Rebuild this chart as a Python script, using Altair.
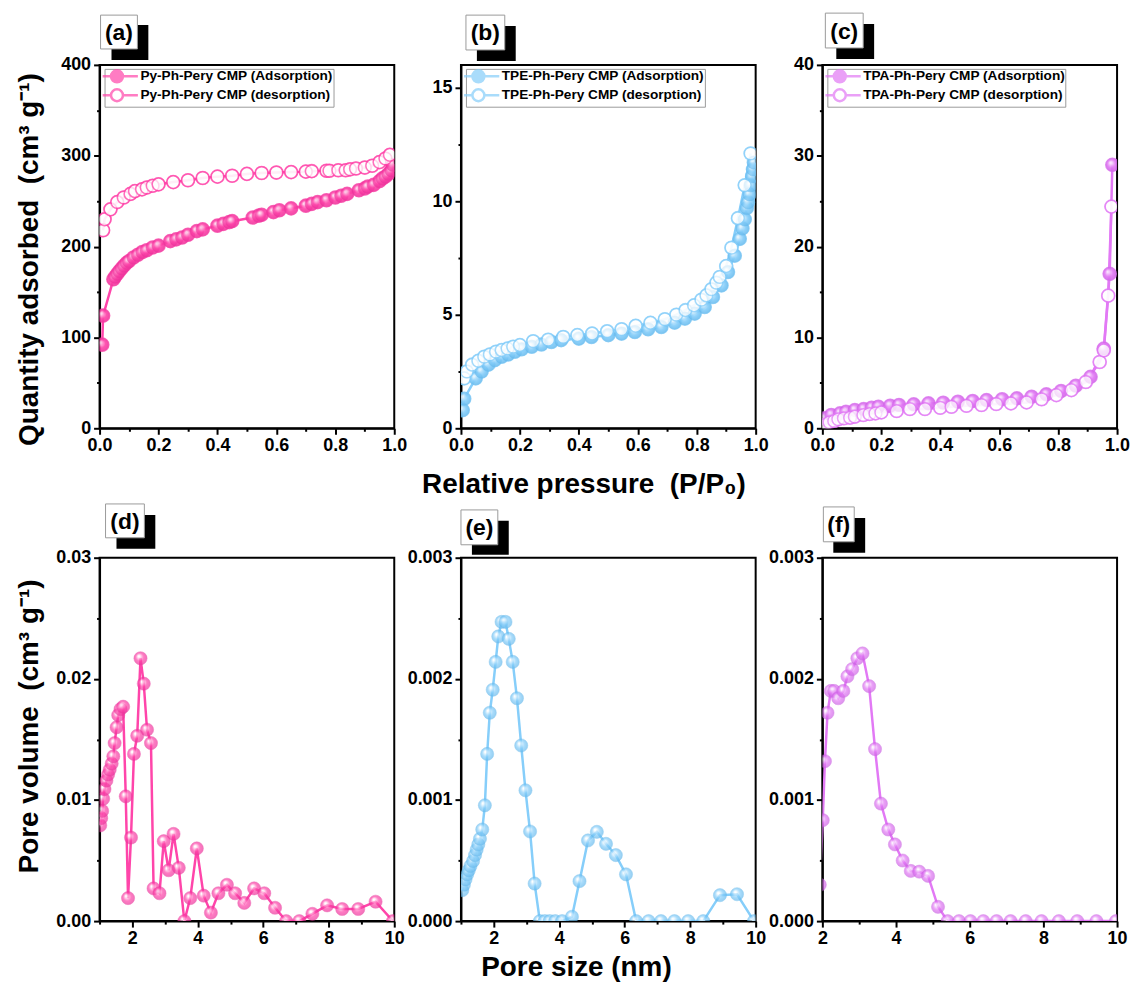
import altair as alt
import pandas as pd

FONT = "Liberation Sans"
PINK, PINK_D = "#FF45AA", "#E8329A"
BLUE, BLUE_D = "#86CEFA", "#62B6EA"
VIOL, VIOL_D = "#E279F5", "#C95FE0"

# ---------------- data ----------------
a_ads_x = [0.009, 0.012, 0.047, 0.053, 0.06, 0.067, 0.075, 0.083, 0.092, 0.10, 0.115, 0.13, 0.145, 0.16, 0.18,
           0.20, 0.24, 0.26, 0.28, 0.30, 0.33, 0.35, 0.40, 0.42, 0.44, 0.45, 0.52, 0.54, 0.55, 0.59, 0.61, 0.65,
           0.70, 0.72, 0.74, 0.77, 0.80, 0.82, 0.84, 0.88, 0.90, 0.91, 0.93, 0.95, 0.96, 0.97, 0.98, 0.99, 0.995]
a_ads_y = [92, 124, 164, 167, 170, 173, 176, 179, 182, 184, 188, 191, 194, 196, 199,
           201, 206, 208, 210, 213, 217, 219, 223, 225, 227, 228, 232, 234, 235, 238, 240, 242,
           245, 247, 249, 251, 254, 256, 258, 262, 264, 266, 268, 272, 275, 277, 280, 284, 290]
a_des_x = [0.012, 0.017, 0.037, 0.06, 0.082, 0.105, 0.12, 0.144, 0.16, 0.18, 0.2, 0.25, 0.3, 0.35, 0.4, 0.45,
           0.5, 0.55, 0.6, 0.65, 0.7, 0.72, 0.77, 0.78, 0.81, 0.835, 0.85, 0.87, 0.9, 0.925, 0.95, 0.97, 0.985]
a_des_y = [218, 230, 241, 249, 254, 258, 261, 263, 265, 267, 268.5, 271, 273, 275.5, 277, 278,
           280, 281, 281.5, 282, 282.5, 283, 283.5, 283.5, 284, 284, 285, 286, 287, 289, 293, 297, 301]

b_ads_x = [0.006, 0.011, 0.05, 0.07, 0.093, 0.115, 0.138, 0.16, 0.183, 0.206, 0.24, 0.273, 0.307, 0.34, 0.4,
           0.443, 0.5, 0.545, 0.59, 0.635, 0.68, 0.725, 0.76, 0.793, 0.827, 0.855, 0.884, 0.906, 0.929, 0.946,
           0.955, 0.963, 0.97, 0.974, 0.979, 0.983, 0.988, 0.991, 0.994]
b_ads_y = [0.8, 1.3, 2.2, 2.5, 2.8, 3.0, 3.15, 3.25, 3.37, 3.48, 3.59, 3.69, 3.8, 3.88, 3.95,
           4.02, 4.1, 4.17, 4.24, 4.36, 4.46, 4.65, 4.83, 5.05, 5.34, 5.78, 6.29, 6.88, 7.6, 8.34,
           8.8, 9.2, 9.7, 9.95, 10.3, 10.7, 11.1, 11.4, 11.7]
b_des_x = [0.011, 0.02, 0.038, 0.059, 0.079, 0.098, 0.119, 0.138, 0.158, 0.177, 0.2, 0.245, 0.296, 0.347,
           0.395, 0.445, 0.496, 0.545, 0.593, 0.643, 0.692, 0.731, 0.762, 0.791, 0.816, 0.833, 0.85, 0.867,
           0.878, 0.9, 0.918, 0.94, 0.963, 0.983]
b_des_y = [2.2, 2.5, 2.8, 2.97, 3.15, 3.25, 3.37, 3.44, 3.51, 3.59, 3.66, 3.83, 3.9, 4.02,
           4.1, 4.17, 4.27, 4.36, 4.51, 4.64, 4.8, 5.0, 5.2, 5.41, 5.66, 5.85, 6.12, 6.41,
           6.66, 7.14, 7.95, 9.25, 10.7, 12.1]

c_ads_x = [0.009, 0.03, 0.06, 0.08, 0.11, 0.14, 0.167, 0.19, 0.23, 0.26, 0.31, 0.36, 0.41, 0.46, 0.51,
           0.557, 0.61, 0.66, 0.71, 0.76, 0.81, 0.86, 0.91, 0.955, 0.975, 0.984]
c_ads_y = [1.1, 1.46, 1.64, 1.8, 2.0, 2.1, 2.26, 2.37, 2.48, 2.56, 2.63, 2.74, 2.81, 2.92, 3.0,
           3.1, 3.2, 3.29, 3.47, 3.73, 4.1, 4.68, 5.66, 8.77, 17.0, 29.0]
c_des_x = [0.009, 0.024, 0.04, 0.054, 0.073, 0.094, 0.11, 0.139, 0.16, 0.18, 0.2, 0.252, 0.297, 0.348,
           0.4, 0.438, 0.489, 0.54, 0.59, 0.64, 0.693, 0.744, 0.794, 0.845, 0.894, 0.941, 0.955, 0.97, 0.981]
c_des_y = [0.37, 0.66, 0.8, 1.0, 1.1, 1.17, 1.28, 1.46, 1.57, 1.64, 1.75, 1.9, 2.12, 2.12,
           2.26, 2.37, 2.48, 2.56, 2.67, 2.74, 2.85, 3.2, 3.65, 4.2, 5.1, 7.3, 8.58, 14.6, 24.4]

d_x = [1.02, 1.05, 1.08, 1.11, 1.15, 1.21, 1.26, 1.31, 1.37, 1.42, 1.46, 1.52, 1.57, 1.64, 1.72,
       1.8, 1.87, 1.96, 2.05, 2.15, 2.25, 2.35, 2.45, 2.57, 2.65, 2.83, 2.96, 3.11, 3.26, 3.42,
       3.59, 3.77, 3.97, 4.18, 4.4, 4.63, 4.89, 5.14, 5.42, 5.72, 6.03, 6.36, 6.7, 7.1, 7.5,
       7.95, 8.41, 8.9, 9.43, 9.96]
d_y = [0.0079, 0.0085, 0.0091, 0.0101, 0.0109, 0.0116, 0.0121, 0.0125, 0.013, 0.0136, 0.0147, 0.016, 0.017,
       0.0175, 0.0177, 0.0103, 0.0019, 0.0069, 0.0138, 0.0153, 0.0217, 0.0196, 0.0158, 0.0147, 0.0027,
       0.0023, 0.0066, 0.0042, 0.0072, 0.0044, 0.0, 0.0019, 0.006, 0.0021, 0.0007, 0.0023, 0.003, 0.0023,
       0.0015, 0.0027, 0.0023, 0.0011, 0.0, 0.0, 0.0006, 0.0013, 0.001, 0.001, 0.0016, 0.0]

e_x = [1.04, 1.09, 1.14, 1.19, 1.24, 1.29, 1.37, 1.43, 1.48, 1.53, 1.58, 1.65, 1.73, 1.8, 1.88,
       1.97, 2.06, 2.14, 2.24, 2.36, 2.46, 2.58, 2.71, 2.84, 2.97, 3.11, 3.25, 3.41, 3.56, 3.71,
       3.88, 4.09, 4.39, 4.62, 4.88, 5.15, 5.43, 5.73, 6.04, 6.35, 6.73, 7.11, 7.52, 7.94, 8.4,
       8.91, 9.43, 9.95]
e_y = [0.000255, 0.0003, 0.000345, 0.000386, 0.00042, 0.000455, 0.000496, 0.000545, 0.00059, 0.000633,
       0.00068, 0.000756, 0.000956, 0.00138, 0.00172, 0.00191, 0.00214, 0.00235, 0.00247, 0.00247,
       0.00233, 0.00214, 0.00184, 0.00145, 0.00108, 0.00074, 0.00031, 0.0, 0.0, 0.0,
       0.0, 0.0, 0.000036, 0.00033, 0.000666, 0.000737, 0.000638, 0.000545, 0.000386, 0.0,
       0.0, 0.0, 0.0, 0.0, 0.0, 0.000214, 0.000222, 0.0]

f_x = [1.93, 2.01, 2.07, 2.14, 2.23, 2.32, 2.43, 2.57, 2.68, 2.81, 2.95, 3.09, 3.27, 3.43, 3.59, 3.79,
       3.97, 4.18, 4.4, 4.63, 4.87, 5.14, 5.4, 5.71, 6.02, 6.37, 6.73, 7.11, 7.52, 7.95, 8.42,
       8.92, 9.44, 9.97]
f_y = [0.0003, 0.000833, 0.00132, 0.00172, 0.0019, 0.0019, 0.00184, 0.0019, 0.00202, 0.00208, 0.00217,
       0.00221, 0.00194, 0.00142, 0.00097, 0.000756, 0.000633, 0.0005, 0.000414, 0.000408, 0.000373,
       0.000118, 0.0, 0.0, 0.0, 0.0, 0.0, 0.0, 0.0, 0.0, 0.0, 0.0, 0.0, 0.0]

legend_a = ["Py-Ph-Pery CMP (Adsorption)", "Py-Ph-Pery CMP (desorption)"]
legend_b = ["TPE-Ph-Pery CMP (Adsorption)", "TPE-Ph-Pery CMP (desorption)"]
legend_c = ["TPA-Ph-Pery CMP (Adsorption)", "TPA-Ph-Pery CMP (desorption)"]

W, H = 296, 365
SZ = 175
TFS = 28
LEG_PATH = "M-2.4,0L-1,0M1,0L3.5,0M-1,0A1,1,0,1,1,1,0A1,1,0,1,1,-1,0Z"


def sphere(c, d):
    return alt.RadialGradient(
        gradient="radial",
        stops=[alt.GradientStop(offset=0, color="#FFFFFF"),
               alt.GradientStop(offset=0.12, color="#FFFFFF"),
               alt.GradientStop(offset=0.55, color=c),
               alt.GradientStop(offset=1, color=d)],
        x1=0.36, y1=0.32, r1=0, x2=0.5, y2=0.5, r2=0.55)


def ax_major(orient, values, fmt, pad, **extra):
    return alt.Axis(orient=orient, values=values, format=fmt, tickSize=6, tickWidth=2, tickColor="black",
                    domainColor="black", domainWidth=2, labelFont=FONT, labelFontSize=18,
                    labelFontWeight="bold", labelColor="black", labelPadding=pad, grid=False,
                    labelFlush=False, labelOverlap=False, titleFont=FONT, titleFontSize=TFS,
                    titleFontWeight="bold", titleColor="black", **extra)


def ax_minor(orient, values):
    return alt.Axis(orient=orient, values=values, tickSize=3, tickWidth=2, tickColor="black",
                    domain=False, labels=False, grid=False, title=None)


def tag(lbl, wb, bb):
    d = pd.DataFrame({"label": [lbl]})
    black = alt.Chart(d).mark_rect(fill="black").encode(
        x=alt.value(bb[0]), x2=alt.value(bb[2]), y=alt.value(bb[1]), y2=alt.value(bb[3]))
    white = alt.Chart(d).mark_rect(fill="white", stroke="#9a9a9a", strokeWidth=1).encode(
        x=alt.value(wb[0]), x2=alt.value(wb[2]), y=alt.value(wb[1]), y2=alt.value(wb[3]))
    txt = alt.Chart(d).mark_text(font=FONT, fontWeight="bold", fontSize=23, color="black").encode(
        x=alt.value((wb[0] + wb[2]) / 2), y=alt.value((wb[1] + wb[3]) / 2 + 1), text="label:N")
    return [black, white, txt]


def panel(series, xdom, ydom, xmaj, xmin, ymaj, ymin, xfmt, yfmt, c, cd, labels=None,
          xtitle=None, ytitle=None, tagspec=None, extra=None):
    rows = []
    for name, xs_, ys_ in series:
        for xv, yv in zip(xs_, ys_):
            rows.append({"x": xv, "y": yv, "s": name})
    df = pd.DataFrame(rows)
    xs = alt.Scale(domain=xdom, nice=False, zero=False)
    ys = alt.Scale(domain=ydom, nice=False, zero=False)
    xkw = dict(title=None)
    if xtitle:
        xkw = dict(title=xtitle[0], titleX=xtitle[1], titleY=xtitle[2], titleAlign="center",
                   titleBaseline="alphabetic", titleAnchor="start")
    ykw = dict(title=None)
    if ytitle:
        ykw = dict(title=ytitle[0], titleX=ytitle[1], titleY=ytitle[2], titleAlign="center",
                   titleBaseline="alphabetic", titleAngle=270, titleAnchor="start")

    line = alt.Chart(df).mark_line(color=c, strokeWidth=2.5, clip=True).encode(
        x=alt.X("x:Q", scale=xs, axis=ax_minor("bottom", xmin)),
        y=alt.Y("y:Q", scale=ys, axis=ax_minor("left", ymin)),
        detail="s:N")
    layers = [line]
    ads_name = series[0][0]
    if labels:
        leg = alt.Chart(df).mark_point(shape="circle", filled=True, size=SZ, stroke=c, strokeWidth=1.5,
                                       clip=True).encode(
            x=alt.X("x:Q", scale=xs, axis=None),
            y=alt.Y("y:Q", scale=ys, axis=None),
            fill=alt.Fill("s:N", scale=alt.Scale(domain=labels, range=[c, "white"]),
                          legend=alt.Legend(orient="none", legendX=5, legendY=4, title=None,
                                            strokeColor="#9a9a9a", fillColor="white", padding=0,
                                            symbolType=LEG_PATH, symbolSize=144,
                                            symbolStrokeColor=c, symbolStrokeWidth=2.5,
                                            symbolOffset=5, labelOffset=16, labelLimit=400,
                                            labelFont=FONT, labelFontSize=13.7, labelFontWeight="bold",
                                            labelColor="black", rowPadding=-4)))
        layers.append(leg)
    pts = alt.Chart(df).transform_filter(alt.datum.s == ads_name).mark_point(
        shape="circle", filled=True, size=SZ, fill=sphere(c, cd), stroke=cd, strokeWidth=0.5,
        clip=True).encode(
        x=alt.X("x:Q", scale=xs, axis=ax_major("bottom", xmaj, xfmt, 2, **xkw)),
        y=alt.Y("y:Q", scale=ys, axis=ax_major("left", ymaj, yfmt, 3, **ykw)))
    layers.append(pts)
    if labels:
        des = alt.Chart(df).transform_filter(alt.datum.s != ads_name).mark_point(
            shape="circle", filled=True, size=SZ - 15, fill="white", stroke=c, strokeWidth=1.5,
            clip=True).encode(
            x=alt.X("x:Q", scale=xs, axis=None),
            y=alt.Y("y:Q", scale=ys, axis=None))
        layers.append(des)
    layers += tag(*tagspec)
    if extra is not None:
        layers.append(extra)
    return alt.layer(*layers).resolve_axis(x="independent", y="independent").properties(width=W, height=H)


iso_xmaj = [0, 0.2, 0.4, 0.6, 0.8, 1.0]
iso_xmin = [0.1, 0.3, 0.5, 0.7, 0.9]
psd_xmaj = [2, 4, 6, 8, 10]
psd_xmin = [1, 3, 5, 7, 9]

anchor = alt.Chart(pd.DataFrame({"k": [0]})).mark_rule(strokeOpacity=0, strokeWidth=1).encode(
    x=alt.value(-99), x2=alt.value(-98), y=alt.value(-62), y2=alt.value(-62))

A = panel([(legend_a[0], a_ads_x, a_ads_y), (legend_a[1], a_des_x, a_des_y)], [0, 1], [0, 400],
          iso_xmaj, iso_xmin, [0, 100, 200, 300, 400], [50, 150, 250, 350], ".1f", "d", PINK, PINK_D,
          labels=legend_a, ytitle=["Quantity adsorbed\u00a0 (cm³ g⁻¹)", -62, 195],
          tagspec=("(a)", (1, -50, 38, -16), (12, -40, 49, -5)), extra=anchor)
B = panel([(legend_b[0], b_ads_x, b_ads_y), (legend_b[1], b_des_x, b_des_y)], [0, 1], [0, 16],
          iso_xmaj, iso_xmin, [0, 5, 10, 15], [2.5, 7.5, 12.5], ".1f", "d", BLUE, BLUE_D,
          labels=legend_b, xtitle=["Relative pressure\u00a0 (P/P₀)", 123, 65],
          tagspec=("(b)", (5, -50, 44, -15), (16, -39, 55, -4)))
C = panel([(legend_c[0], c_ads_x, c_ads_y), (legend_c[1], c_des_x, c_des_y)], [0, 1], [0, 40],
          iso_xmaj, iso_xmin, [0, 10, 20, 30, 40], [5, 15, 25, 35], ".1f", "d", VIOL, VIOL_D,
          labels=legend_c, tagspec=("(c)", (3, -52, 41, -17), (14, -41, 52, -6)))
D = panel([("d", d_x, d_y)], [1, 10], [0, 0.03], psd_xmaj, psd_xmin,
          [0, 0.01, 0.02, 0.03], [0.005, 0.015, 0.025], "d", ".2f", PINK, PINK_D,
          ytitle=["Pore volume\u00a0 (cm³ g⁻¹)", -62, 169],
          tagspec=("(d)", (6, -54, 45, -20), (17, -43, 56, -9)))
E = panel([("e", e_x, e_y)], [1, 10], [0, 0.003], psd_xmaj, psd_xmin,
          [0, 0.001, 0.002, 0.003], [0.0005, 0.0015, 0.0025], "d", ".3f", BLUE, BLUE_D,
          xtitle=["Pore size (nm)", 115.5, 55],
          tagspec=("(e)", (0, -48, 37, -13), (11, -37, 48, -3)))
F = panel([("f", f_x, f_y)], [2, 10], [0, 0.003], psd_xmaj, [3, 5, 7, 9],
          [0, 0.001, 0.002, 0.003], [0.0005, 0.0015, 0.0025], "d", ".3f", VIOL, VIOL_D,
          tagspec=("(f)", (1, -51, 32, -16), (11, -40, 43, -5)))

chart = alt.concat(A, B, C, D, E, F, columns=3, spacing={"row": 130, "column": 67},
                   bounds="flush").resolve_scale(fill="independent").resolve_legend(
    fill="independent").configure_view(stroke="black", strokeWidth=2).properties(
    padding=0, background="white")

chart.save("out.html", embed_options={"renderer": "svg", "actions": False})
